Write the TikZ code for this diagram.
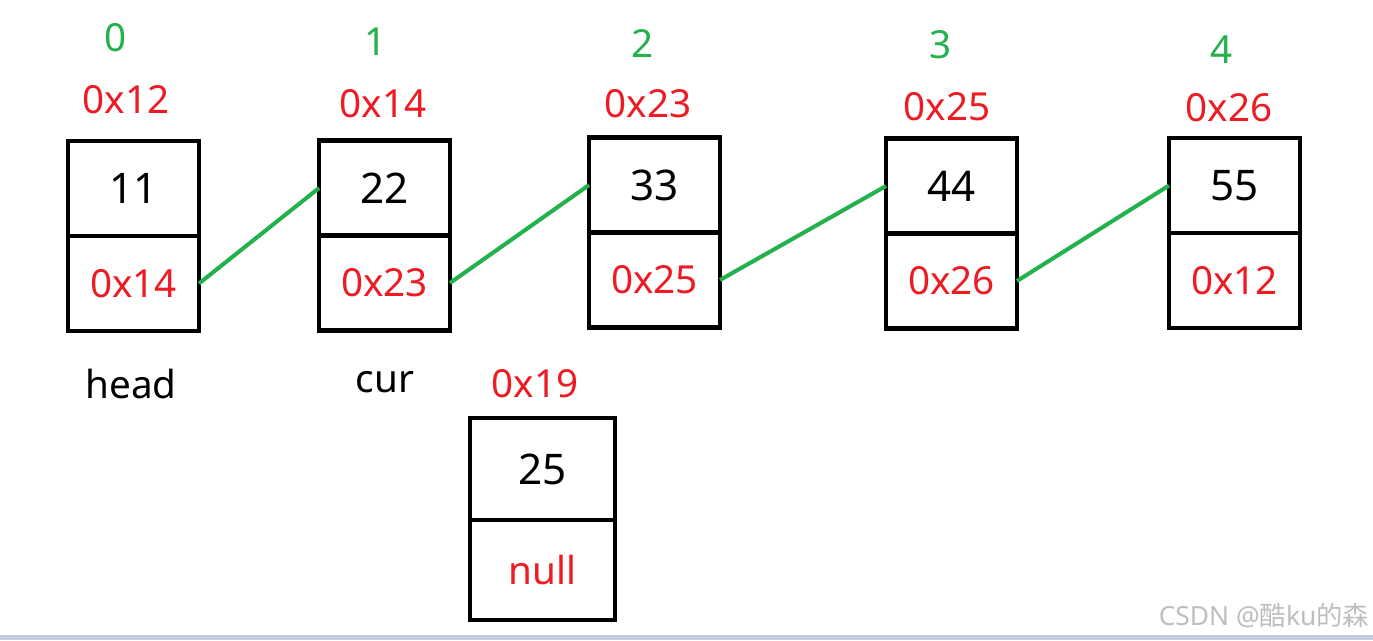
\documentclass[tikz,border=0pt]{standalone}
\usepackage{fontspec}
\setmainfont{Noto Sans}
\newfontfamily\cjkfont{Noto Sans CJK SC}
\usetikzlibrary{positioning}
\definecolor{addrred}{RGB}{237,28,36}
\definecolor{linkgreen}{RGB}{34,177,76}
\definecolor{markgray}{RGB}{190,190,190}
\definecolor{barblue}{RGB}{196,206,220}

\begin{document}
\begin{tikzpicture}[x=0.02cm,y=-0.02cm,
    font=\fontsize{22}{26}\selectfont,
    cell/.style={draw,line width=2.3pt,outer sep=0pt,inner sep=0pt,minimum width=2.62cm,minimum height=1.9cm},
    datum/.style={cell,font=\fontsize{24}{28}\selectfont},
    nextp/.style={cell,text=addrred},
    addr/.style={text=addrred},
    idx/.style={text=linkgreen},
    link/.style={linkgreen,line width=2.3pt}
  ]
    \useasboundingbox (0,0) rectangle (1373,640);
    \fill[barblue] (0,635) rectangle (1373,640);

    % list cells
    \node[datum] (d0) at (133.5,188.5) {11};
    \node[nextp,below=0pt of d0] (n0) {0x14};
    \node[datum] (d1) at (384.5,188) {22};
    \node[nextp,below=0pt of d1] (n1) {0x23};
    \node[datum] (d2) at (654.5,185) {33};
    \node[nextp,below=0pt of d2] (n2) {0x25};
    \node[datum] (d3) at (951.5,186) {44};
    \node[nextp,below=0pt of d3] (n3) {0x26};
    \node[datum] (d4) at (1234.5,185.5) {55};
    \node[nextp,below=0pt of d4] (n4) {0x12};

    % new node
    \node[datum,minimum width=2.9cm,minimum height=2.04cm] (d5) at (542.5,469) {25};
    \node[nextp,minimum width=2.9cm,minimum height=2cm,below=0pt of d5] (n5) {null};

    % indices and addresses
    \node[idx] (i0) at (116,38) {0};
    \node[idx] (i1) at (376,42) {1};
    \node[idx] (i2) at (643,44) {2};
    \node[idx] (i3) at (941,45) {3};
    \node[idx] (i4) at (1222,50) {4};
    \node[addr] (a0) at (126,100) {0x12};
    \node[addr] (a1) at (383,104) {0x14};
    \node[addr] (a2) at (648,104) {0x23};
    \node[addr] (a3) at (947,107) {0x25};
    \node[addr] (a4) at (1229,108) {0x26};
    \node[addr] (a5) at (535,384) {0x19};

    \node (head) at (131,384) {head};
    \node (cur) at (385,382) {cur};

    \draw[link] (n0.east) -- (d1.west);
    \draw[link] (n1.east) -- (d2.west);
    \draw[link] (n2.east) -- (d3.west);
    \draw[link] (n3.east) -- (d4.west);

    \node[text=markgray,font=\fontsize{15}{18}\selectfont] (mark) at (1264,616) {CSDN @{\cjkfont 酷}ku{\cjkfont 的森}};
  \end{tikzpicture}
\end{document}
